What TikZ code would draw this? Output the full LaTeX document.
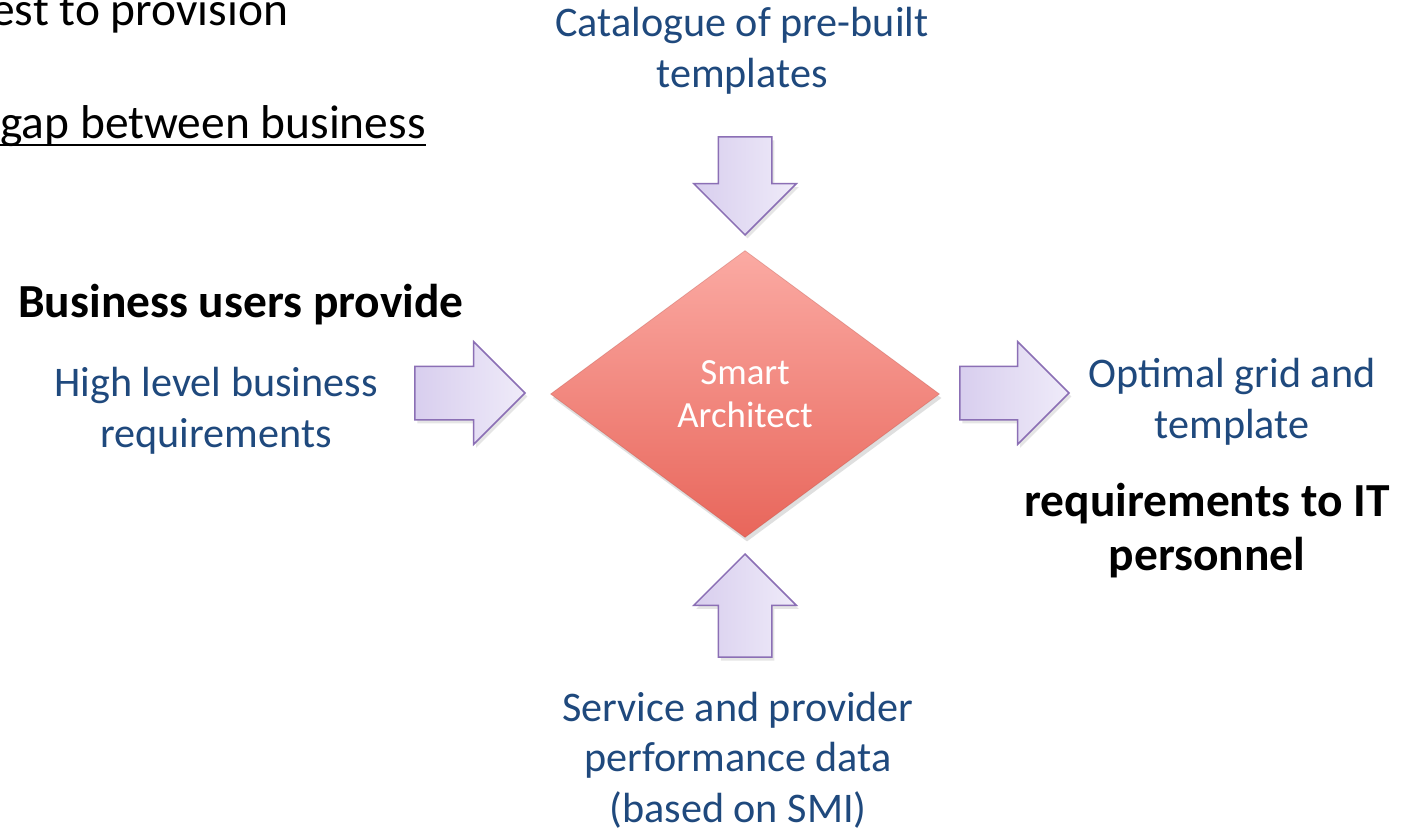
\documentclass[tikz,border=0pt]{standalone}
\usepackage{fontspec}
\setmainfont{Carlito}
\usetikzlibrary{shapes.geometric,shapes.arrows,shadows}

\definecolor{textblue}{HTML}{1F497D}
\definecolor{arrowline}{HTML}{8B6FB5}
\definecolor{arrowdark}{HTML}{D8CEEE}
\definecolor{arrowlight}{HTML}{EFEBF9}
\definecolor{archtop}{HTML}{FBAAA3}
\definecolor{archbottom}{HTML}{E8665B}

\tikzset{
  blocktext/.style={font=\fontsize{24}{28.5}\selectfont, text=textblue, align=center, inner sep=0pt},
  boldtext/.style={font=\bfseries\fontsize{27}{30.5}\selectfont, align=center, inner sep=0pt},
  feedarrow/.style={single arrow, draw=arrowline, line width=0.3mm,
    left color=arrowdark, right color=arrowlight,
    inner xsep=0pt, inner ysep=5.2mm, single arrow head extend=4.9mm,
    drop shadow={opacity=0.2, shadow xshift=0.5mm, shadow yshift=-0.7mm}},
}

\begin{document}
\begin{tikzpicture}[x=0.2mm, y=-0.2mm]
\clip (0,0) rectangle (1414,828);
\fill[white] (0,0) rectangle (1414,828);

% slide text running in from the left
\node[font=\fontsize{27}{33}\selectfont, anchor=base west, inner sep=0pt] (provision) at (-9,25) {est to provision};
\node[font=\fontsize{27}{33}\selectfont, anchor=base west, inner sep=0pt] (gap) at (0,138) {gap between business};
\draw[line width=0.55mm] ([yshift=-1.4mm]gap.base west) -- ([yshift=-1.4mm]gap.base east);

% the architect in the middle
\node[diamond, minimum width=77.8mm, minimum height=57.4mm, inner sep=0pt,
  top color=archtop, bottom color=archbottom, draw=archbottom!80!black, draw opacity=0.35,
  drop shadow={opacity=0.25, shadow xshift=0.4mm, shadow yshift=-0.8mm},
  text=white, align=center, font=\fontsize{21}{24.5}\selectfont] (architect) at (745,394) {Smart\\Architect};

% inputs and output
\node[feedarrow, minimum height=22mm, anchor=tip] (inarrow) at (526,393) {};
\node[feedarrow, minimum height=19.6mm, rotate=-90, anchor=tip] (toparrow) at (745,236) {};
\node[feedarrow, minimum height=20.6mm, rotate=90, anchor=tip] (bottomarrow) at (745,553) {};
\node[feedarrow, minimum height=21.8mm, anchor=tip] (outarrow) at (1070,393) {};

% base anchor sits on the last line
\node[blocktext, anchor=base] (catalogue) at (742,87) {Catalogue of pre-built\\templates};
\node[boldtext, anchor=base] (users) at (241,317) {Business users provide};
\node[blocktext, anchor=base] (highlevel) at (216,447) {High level business\\requirements};
\node[blocktext, anchor=base] (optimal) at (1232,438) {Optimal grid and\\template};
\node[boldtext, anchor=base] (itstaff) at (1207,570) {requirements to IT\\personnel};
\node[blocktext, anchor=base] (perfdata) at (738,822) {Service and provider\\performance data\\(based on SMI)};
\end{tikzpicture}
\end{document}
